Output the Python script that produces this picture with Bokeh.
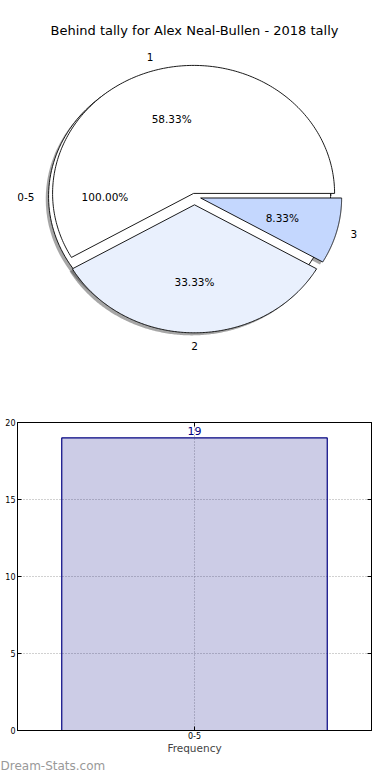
import numpy as np
from bokeh.plotting import figure
from bokeh.layouts import column
from bokeh.models import (Range1d, FactorRange, Label, LinearAxis, CategoricalAxis,
                          FixedTicker, ColumnDataSource, Title)
from bokeh.core.properties import value
from bokeh.embed import file_html
from bokeh.resources import INLINE

# ---------------- data ----------------
title_text = "Behind tally for Alex Neal-Bullen - 2018 tally"
outer_labels = ["0-5"]
outer_values = [19]
outer_explode = [0.035]
outer_colors = ["#ffffff"]

inner_labels = ["1", "2", "3"]
inner_values = [7, 4, 1]
inner_explode = [0.025, 0.065, 0.045]
inner_colors = ["#ffffff", "#e9f0fd", "#c4d7fe"]

bar_categories = ["0-5"]
bar_values = [19]
y_ticks = [0, 5, 10, 15, 20]
x_axis_label = "Frequency"
watermark = "Dream-Stats.com"

FONT = "DejaVu Sans"

# shared frame borders (column aligns frames)
W = 382
BL, BR = 17, 11

# ---------------- pie figure ----------------
H1 = 400
cx_px, cy_px = 194, 196      # pie centre on the canvas
rx_px, ry_px = 141, 128      # pixels per unit radius

p1 = figure(width=W, height=H1,
            x_range=Range1d(-(cx_px - BL) / rx_px, (W - BR - cx_px) / rx_px),
            y_range=Range1d(-(H1 - cy_px) / ry_px, cy_px / ry_px),
            x_axis_type=None, y_axis_type=None,
            toolbar_location=None, output_backend="svg",
            min_border_left=BL, min_border_right=BR, min_border_top=0,
            min_border_bottom=0)
p1.grid.visible = False
p1.outline_line_color = None


def pie_parts(values, explode, labels):
    total = float(sum(values))
    xs, ys, lx, ly, la, px, py, pt = [], [], [], [], [], [], [], []
    start = 0.0
    for v, e, lab in zip(values, explode, labels):
        frac = v / total
        t1, t2 = start, start + 360.0 * frac
        mid = np.deg2rad((t1 + t2) / 2)
        ox, oy = e * np.cos(mid), e * np.sin(mid)
        th = np.deg2rad(np.linspace(t1, t2, 200))
        if frac >= 0.9999:
            xs.append(list(ox + np.cos(th)))
            ys.append(list(oy + np.sin(th)))
        else:
            xs.append([ox] + list(ox + np.cos(th)) + [ox])
            ys.append([oy] + list(oy + np.sin(th)) + [oy])
        c = np.cos(mid)
        lx.append(ox + 1.1 * c)
        ly.append(oy + 1.1 * np.sin(mid))
        la.append("left" if c > 1e-6 else ("center" if abs(c) <= 1e-6 else "right"))
        px.append(ox + 0.6 * c)
        py.append(oy + 0.6 * np.sin(mid))
        pt.append("%.2f%%" % (100.0 * frac))
        start = t2
    return xs, ys, lx, ly, la, px, py, pt


outer = pie_parts(outer_values, outer_explode, outer_labels)
inner = pie_parts(inner_values, inner_explode, inner_labels)

# shadows (beneath all wedges)
sh = 0.02
for part in (outer, inner):
    p1.patches(xs=[[x - sh for x in xx] for xx in part[0]],
               ys=[[y - sh for y in yy] for yy in part[1]],
               fill_color="#4d4d4d", fill_alpha=0.5, line_color=None)

p1.patches(xs=outer[0], ys=outer[1], fill_color=outer_colors,
           line_color="black", line_width=0.9)
p1.patches(xs=inner[0], ys=inner[1], fill_color=inner_colors,
           line_color="black", line_width=0.9)

for part, labs in ((outer, outer_labels), (inner, inner_labels)):
    src = ColumnDataSource(dict(x=part[2], y=part[3], t=labs, a=part[4]))
    p1.text(x="x", y="y", text="t", text_align="a", text_baseline="middle",
            source=src, text_font=value(FONT), text_font_size="10.5px",
            text_color="black")
    src2 = ColumnDataSource(dict(x=part[5], y=part[6], t=part[7]))
    p1.text(x="x", y="y", text="t", text_align="center", text_baseline="middle",
            source=src2, text_font=value(FONT), text_font_size="10.5px",
            text_color="black")

p1.add_layout(Label(x=194 - BL, y=H1 - 30, x_units="screen", y_units="screen",
                    text=title_text, text_align="center", text_baseline="middle",
                    text_font=FONT, text_font_size="13px", text_color="black"))

# ---------------- bar figure ----------------
H2 = 372
p2 = figure(width=W, height=H2, x_range=FactorRange(factors=bar_categories),
            y_range=Range1d(0, 20), toolbar_location=None, output_backend="svg",
            min_border_left=BL, min_border_right=BR, min_border_top=22,
            min_border_bottom=0)
p2.vbar(x=bar_categories, top=bar_values, width=0.75,
        fill_color="navy", fill_alpha=0.2, line_color="navy", line_width=1.2)
p2.text(x=bar_categories, y=bar_values, text=[str(v) for v in bar_values],
        text_align="center", text_baseline="bottom", y_offset=-3,
        text_font=value(FONT), text_font_size="11px", text_color="navy")

p2.outline_line_color = "black"
p2.outline_line_width = 1
p2.outline_line_alpha = 1

xax = p2.below[0]
yax = p2.left[0]
yax_r = LinearAxis()
xax_t = CategoricalAxis()
p2.add_layout(yax_r, "right")
p2.add_layout(xax_t, "above")
for ax in (yax, yax_r):
    ax.ticker = FixedTicker(ticks=y_ticks)
for ax in (xax, yax, yax_r, xax_t):
    ax.major_tick_in = 4
    ax.major_tick_out = 0
    ax.minor_tick_in = 0
    ax.minor_tick_out = 0
    ax.major_label_text_font = FONT
    ax.major_label_text_font_size = "8px"
    ax.major_label_text_color = "black"
    ax.axis_line_color = "black"
    ax.major_tick_line_color = "black"
    ax.major_label_standoff = 2
for ax in (yax_r, xax_t):
    ax.major_label_text_font_size = "0px"
    ax.major_label_standoff = 0
    ax.major_label_text_color = None
xax.major_label_standoff = 1
xax.axis_label = x_axis_label
xax.axis_label_text_font = FONT
xax.axis_label_text_font_size = "10.5px"
xax.axis_label_text_font_style = "normal"
xax.axis_label_standoff = 0

p2.xgrid.grid_line_color = "#999999"
p2.ygrid.grid_line_color = "#999999"
p2.xgrid.grid_line_dash = "1 2"
p2.ygrid.grid_line_dash = "1 2"
p2.xgrid.grid_line_alpha = 0.9
p2.ygrid.grid_line_alpha = 0.9

p2.add_layout(Title(text=watermark, align="left", offset=-BL, standoff=0,
                    text_font=FONT, text_font_size="12px", text_font_style="normal",
                    text_color="#999999"), "below")

layout = column(p1, p2)
open("out.html", "w").write(file_html(layout, INLINE))
